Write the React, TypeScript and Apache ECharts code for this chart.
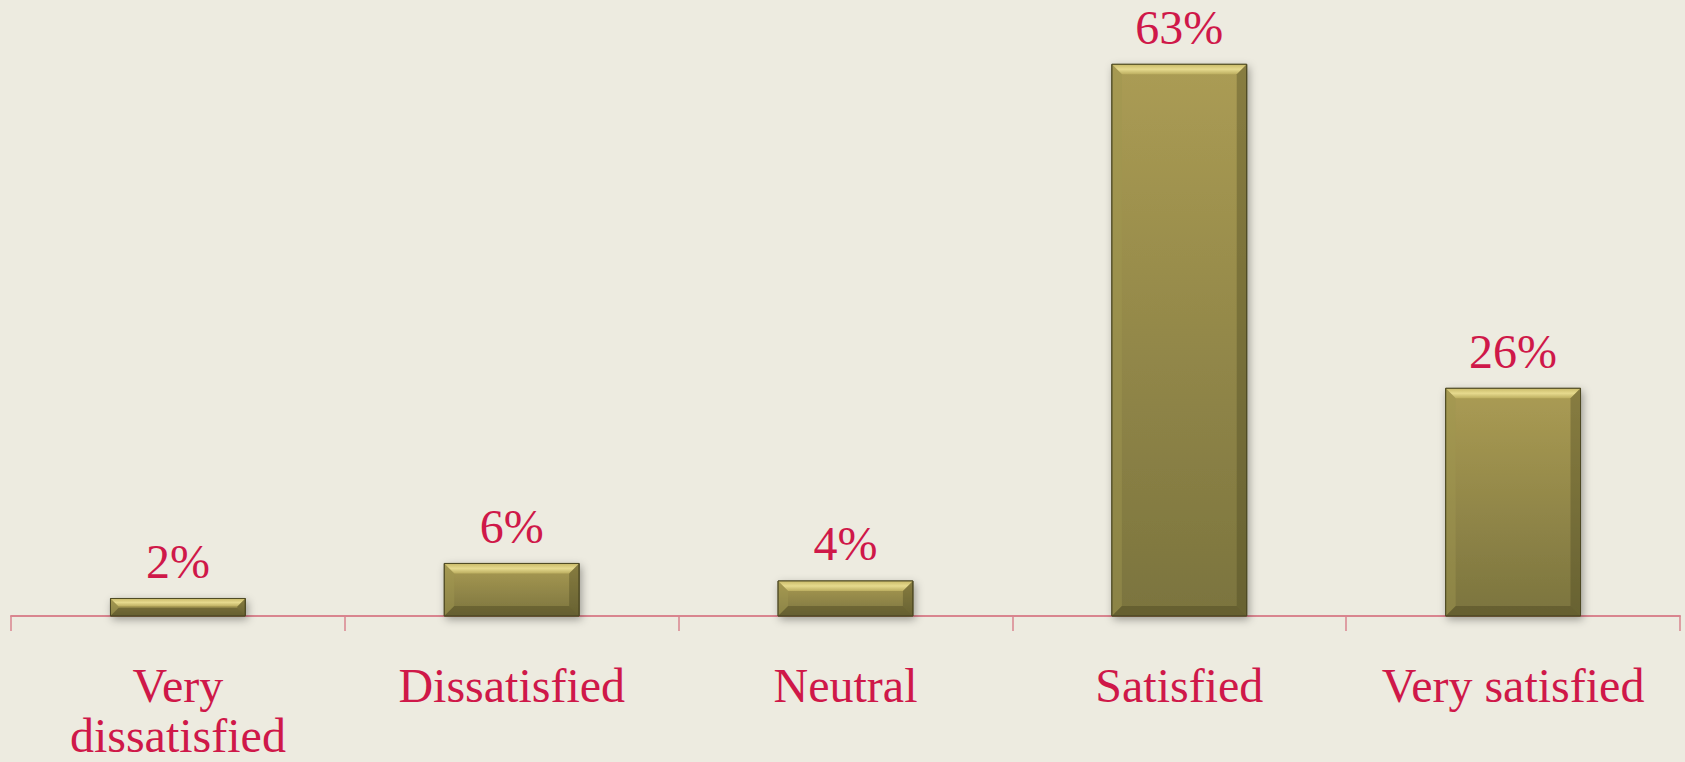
import React, { useEffect, useRef } from "react";
import * as echarts from "echarts";

const categories = ["Very\ndissatisfied", "Dissatisfied", "Neutral", "Satisfied", "Very satisfied"];
const values = [2, 6, 4, 63, 26];
const valueLabels = ["2%", "6%", "4%", "63%", "26%"];

const RED = "#CF1849";
const FONT = "'Liberation Serif', 'DejaVu Serif', serif";

export default function App() {
  const ref = useRef<HTMLDivElement>(null);
  useEffect(() => {
    document.body.style.margin = "0";
    const chart = echarts.init(ref.current!, null, { renderer: "svg" });
    chart.setOption({
      animation: false,
      backgroundColor: "#EDEBE0",
      grid: { left: 11, right: 5, top: 3, bottom: 146 },
      xAxis: {
        type: "category",
        data: categories,
        axisLine: { lineStyle: { color: "#D9858F", width: 2 } },
        axisTick: { show: true, length: 15, lineStyle: { color: "#D9858F", width: 1.5 } },
        axisLabel: {
          color: RED,
          fontFamily: FONT,
          fontSize: 48,
          lineHeight: 50,
          margin: 44,
          interval: 0,
        },
      },
      yAxis: { type: "value", min: 0, max: 70, show: false, splitLine: { show: false } },
      series: [
        {
          type: "custom",
          data: values.map((v, i) => [i, v]),
          renderItem: (params: any, api: any) => {
            const idx = api.value(0);
            const val = api.value(1);
            const top = api.coord([idx, val]);
            const base = api.coord([idx, 0]);
            const bw = api.size([1, 0])[0] * 0.404;
            const x0 = top[0] - bw / 2;
            const x1 = top[0] + bw / 2;
            const y0 = top[1];
            const y1 = base[1];
            const h = y1 - y0;
            const b = Math.min(10, h / 2.2);
            return {
              type: "group",
              children: [
                {
                  type: "rect",
                  shape: { x: x0, y: y0, width: bw, height: h },
                  style: {
                    fill: new echarts.graphic.LinearGradient(0, 0, 0, 1, [
                      { offset: 0, color: "#AB9C54" },
                      { offset: 1, color: "#7B743E" },
                    ]),
                    stroke: "#4E4A24",
                    lineWidth: 1,
                    shadowBlur: 8,
                    shadowOffsetX: 2,
                    shadowOffsetY: 3,
                    shadowColor: "rgba(0,0,0,0.35)",
                  },
                },
                {
                  type: "polygon",
                  shape: { points: [[x0, y0], [x1, y0], [x1 - b, y0 + b], [x0 + b, y0 + b]] },
                  style: {
                    fill: new echarts.graphic.LinearGradient(0, 0, 0, 1, [
                      { offset: 0, color: "#C9BA68" },
                      { offset: 0.5, color: "#E6DA8E" },
                      { offset: 1, color: "#BCAE60" },
                    ]),
                  },
                },
                {
                  type: "polygon",
                  shape: { points: [[x0, y0], [x0 + b, y0 + b], [x0 + b, y1 - b], [x0, y1]] },
                  style: { fill: "rgba(160,150,80,0.45)" },
                },
                {
                  type: "polygon",
                  shape: { points: [[x1, y0], [x1 - b, y0 + b], [x1 - b, y1 - b], [x1, y1]] },
                  style: { fill: "rgba(70,66,30,0.35)" },
                },
                {
                  type: "polygon",
                  shape: { points: [[x0, y1], [x0 + b, y1 - b], [x1 - b, y1 - b], [x1, y1]] },
                  style: { fill: "rgba(70,66,30,0.4)" },
                },
                {
                  type: "rect",
                  shape: { x: x0, y: y0, width: bw, height: h },
                  style: { fill: "none", stroke: "#4E4A24", lineWidth: 1 },
                },
                {
                  type: "text",
                  x: top[0],
                  y: y0 - 13,
                  style: {
                    text: valueLabels[idx],
                    fill: RED,
                    font: `48px ${FONT}`,
                    textAlign: "center",
                    textVerticalAlign: "bottom",
                    verticalAlign: "bottom",
                    align: "center",
                  },
                },
              ],
            };
          },
        },
      ],
    });
    return () => chart.dispose();
  }, []);
  return <div ref={ref} style={{ position: "fixed", left: 0, top: 0, width: 1685, height: 762 }} />;
}
